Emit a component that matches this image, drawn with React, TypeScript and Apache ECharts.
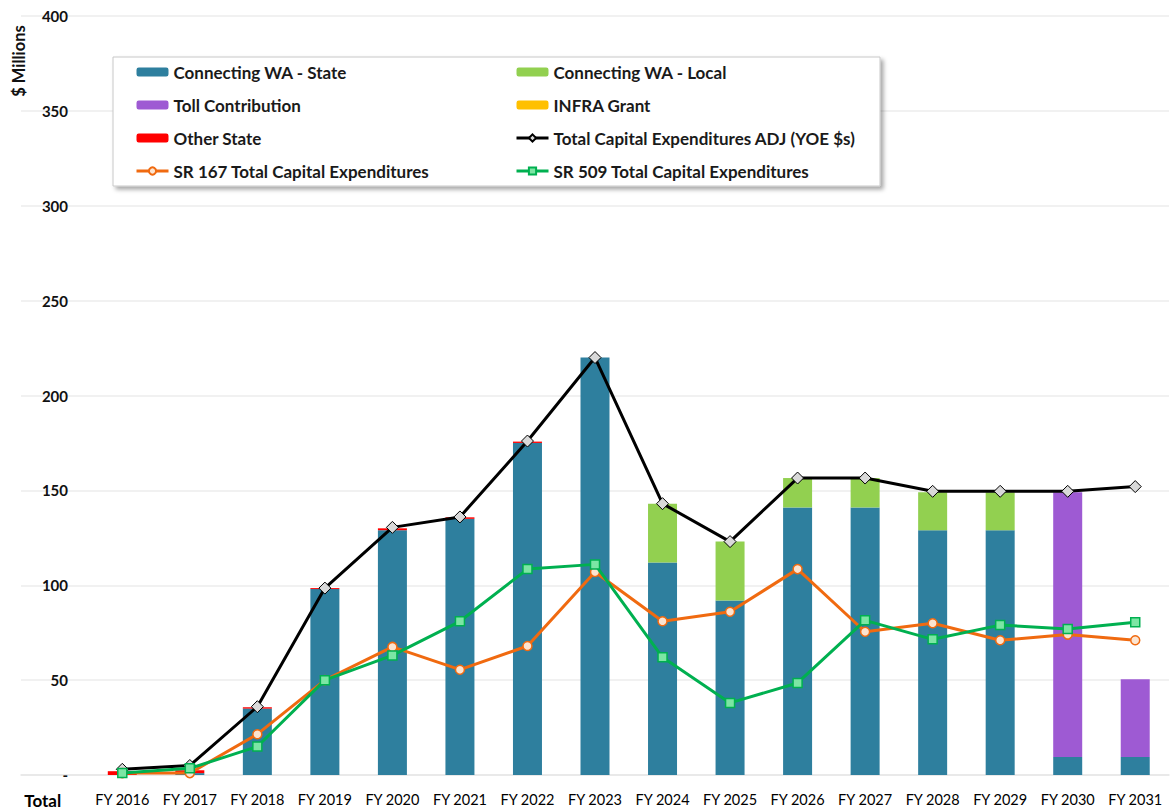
import React, { useEffect, useRef } from "react";
import * as echarts from "echarts";

const categories = [
  "Total", "FY 2016", "FY 2017", "FY 2018", "FY 2019", "FY 2020", "FY 2021", "FY 2022", "FY 2023",
  "FY 2024", "FY 2025", "FY 2026", "FY 2027", "FY 2028", "FY 2029", "FY 2030", "FY 2031",
];

const stateVals = [null, null, 1, 35, 98, 129, 135, 175, 220, 112, 92, 141, 141, 129, 129, 9.5, 9.5];
const localVals = [null, null, null, null, null, null, null, null, null, 31, 31, 15.5, 15.5, 20, 20, null, null];
const tollVals = [null, null, null, null, null, null, null, null, null, null, null, null, null, null, null, 139.5, 41];
const infraVals = [null, null, null, null, null, null, null, null, null, null, null, null, null, null, null, null, null];
const otherVals = [null, 2, 1.5, 0.7, 0.5, 1, 0.8, 0.7, null, null, null, null, null, null, null, null, null];

const totalAdjVals = [null, 3, 5, 36, 98.5, 130.5, 136, 176, 220, 143, 123, 156.5, 156.5, 149.5, 149.5, 149.5, 152];
const sr167Vals = [null, 1, 1, 21.5, 50, 67.5, 55.5, 68, 107, 81, 86, 108.5, 75.5, 80, 71, 74, 71];
const sr509Vals = [null, 1, 3.5, 15, 50, 63, 81, 108.5, 111, 62, 38, 48.5, 81.5, 71.5, 79, 77, 80.5];

const yTicks = { min: 0, max: 400, interval: 50 };

const legendLeft = ["Connecting WA - State", "Toll Contribution", "Other State", "SR 167 Total Capital Expenditures"];
const legendRight = ["Connecting WA - Local", "INFRA Grant", "Total Capital Expenditures ADJ (YOE $s)", "SR 509 Total Capital Expenditures"];

const FONT = "Lato, 'Open Sans', sans-serif";

export default function App() {
  const ref = useRef<HTMLDivElement>(null);

  useEffect(() => {
    if (!ref.current) return;
    const chart = echarts.init(ref.current, undefined, { renderer: "svg" });

    const legendText = { fontFamily: FONT, fontWeight: "bold", fontSize: 17, color: "#1a1a1a", lineHeight: 18 };

    const barSeries = (name: string, data: any[], color: string) => ({
      name,
      type: "bar",
      stack: "funds",
      data,
      barWidth: 29,
      itemStyle: { color },
      z: 2,
    });

    const legendBase = {
      orient: "vertical",
      top: 63,
      padding: 0,
      itemWidth: 32,
      itemHeight: 9,
      itemGap: 15,
      itemTextGap: 5,
      textStyle: legendText,
      lineStyle: { width: 3 },
      z: 5,
    };

    chart.setOption({
      animation: false,
      backgroundColor: "#ffffff",
      grid: { left: 21, right: 7, top: 16, bottom: 35 },
      xAxis: {
        type: "category",
        data: categories,
        axisLine: { show: true, lineStyle: { color: "#e6e6e6", width: 1.5 } },
        axisTick: { show: false },
        axisLabel: {
          interval: 0,
          margin: 17,
          fontFamily: FONT,
          fontSize: 14.5,
          color: "#000",
          formatter: (v: string) => (v === "Total" ? "{t|" + v + "}" : v),
          rich: {
            t: { fontFamily: FONT, fontSize: 17, fontWeight: "bold", color: "#000", padding: [0, 24, 0, 0] },
          },
        },
      },
      yAxis: {
        type: "value",
        min: yTicks.min,
        max: yTicks.max,
        interval: yTicks.interval,
        axisLine: { show: false },
        axisTick: { show: false },
        splitLine: { show: true, lineStyle: { color: "#ececec", width: 1.5 } },
        axisLabel: {
          margin: -47,
          fontFamily: FONT,
          fontSize: 15,
          fontWeight: "bold",
          color: "#111",
          formatter: (v: number) => (v === 0 ? "-" : String(v)),
        },
      },
      legend: [
        { ...legendBase, left: 135, data: legendLeft },
        { ...legendBase, left: 515, data: legendRight },
      ],
      graphic: [
        {
          type: "rect",
          z: 3,
          shape: { x: 113, y: 57, width: 767, height: 129 },
          style: {
            fill: "#ffffff",
            stroke: "#c8c8c8",
            lineWidth: 1,
            shadowBlur: 4,
            shadowOffsetX: 3,
            shadowOffsetY: 3,
            shadowColor: "rgba(0,0,0,0.35)",
          },
        },
        {
          type: "text",
          x: 19,
          y: 61,
          rotation: Math.PI / 2,
          style: {
            text: "$ Millions",
            fontFamily: FONT,
            fontSize: 16.5,
            fontWeight: "bold",
            fill: "#111",
            align: "center",
            verticalAlign: "middle",
          },
        },
      ],
      series: [
        barSeries("Connecting WA - State", stateVals, "#2E7F9E"),
        barSeries("Connecting WA - Local", localVals, "#92D050"),
        barSeries("Toll Contribution", tollVals, "#9E5AD3"),
        barSeries("INFRA Grant", infraVals, "#FFC000"),
        barSeries("Other State", otherVals, "#FF0000"),
        {
          name: "Total Capital Expenditures ADJ (YOE $s)",
          type: "line",
          data: totalAdjVals,
          symbol: "diamond",
          symbolSize: 12,
          lineStyle: { color: "#000000", width: 3 },
          itemStyle: { color: "#d9d9d9", borderColor: "#000000", borderWidth: 1 },
          z: 4,
        },
        {
          name: "SR 167 Total Capital Expenditures",
          type: "line",
          data: sr167Vals,
          symbol: "circle",
          symbolSize: 9,
          lineStyle: { color: "#F06A10", width: 3 },
          itemStyle: { color: "#FCE4D0", borderColor: "#F06A10", borderWidth: 1.5 },
          z: 5,
        },
        {
          name: "SR 509 Total Capital Expenditures",
          type: "line",
          data: sr509Vals,
          symbol: "rect",
          symbolSize: 9,
          lineStyle: { color: "#00B050", width: 3 },
          itemStyle: { color: "#7CE6A4", borderColor: "#00B050", borderWidth: 1.5 },
          z: 6,
        },
      ],
    });

    return () => chart.dispose();
  }, []);

  return (
    <div
      ref={ref}
      style={{ position: "fixed", left: 0, top: 0, width: 1176, height: 810, background: "#fff" }}
    />
  );
}
